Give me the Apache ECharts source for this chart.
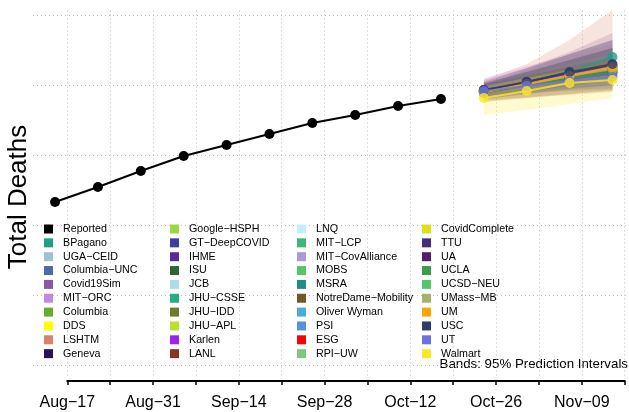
<!DOCTYPE html>
<html><head><meta charset="utf-8">
<script src="https://cdn.jsdelivr.net/npm/echarts@6/dist/echarts.min.js"></script>
<style>html,body{margin:0;padding:0;background:#fff}#c{width:629px;height:412px}</style>
</head><body><div id="c"></div>
<script>
// ---------- DATA ----------
const reportedDates = ['2020-08-15','2020-08-22','2020-08-29','2020-09-05','2020-09-12','2020-09-19','2020-09-26','2020-10-03','2020-10-10','2020-10-17'];
const reportedDeaths = [4329, 4543, 4771, 4986, 5143, 5300, 5457, 5571, 5700, 5800];

const forecastDates = ['2020-10-24','2020-10-31','2020-11-07','2020-11-14'];

const legendCol1 = ['Reported','BPagano','UGA−CEID','Columbia−UNC','Covid19Sim','MIT−ORC','Columbia','DDS','LSHTM','Geneva'];
const legendCol2 = ['Google−HSPH','GT−DeepCOVID','IHME','ISU','JCB','JHU−CSSE','JHU−IDD','JHU−APL','Karlen','LANL'];
const legendCol3 = ['LNQ','MIT−LCP','MIT−CovAlliance','MOBS','MSRA','NotreDame−Mobility','Oliver Wyman','PSI','ESG','RPI−UW'];
const legendCol4 = ['CovidComplete','TTU','UA','UCLA','UCSD−NEU','UMass−MB','UM','USC','UT','Walmart'];

// models with a forecast for this location (point, lower 95%, upper 95%)
const forecastModels = ['BPagano','Columbia−UNC','Covid19Sim','MIT−ORC','LSHTM','GT−DeepCOVID','JHU−IDD','UA','UCLA','UMass−MB','UM','USC','UT','Walmart'];
const forecastPoint = [
  [5914, 6043, 6186, 6400],
  [5929, 6014, 6086, 6157],
  [5900, 6029, 6143, 6257],
  [5914, 6029, 6143, 6243],
  [5886, 6014, 6129, 6243],
  [5929, 6014, 6114, 6186],
  [5886, 6000, 6114, 6214],
  [5914, 6043, 6171, 6286],
  [5900, 6000, 6100, 6186],
  [5900, 6014, 6129, 6229],
  [5900, 6014, 6129, 6257],
  [5929, 6043, 6186, 6300],
  [5914, 5986, 6057, 6114],
  [5814, 5914, 6029, 6071]
];
const forecastLower = [
  [5800, 5900, 6000, 6100],
  [5843, 5886, 5914, 5943],
  [5786, 5829, 5871, 5914],
  [5814, 5871, 5929, 5986],
  [5771, 5814, 5857, 5900],
  [5857, 5900, 5957, 6000],
  [5757, 5814, 5871, 5929],
  [5800, 5871, 5943, 6000],
  [5843, 5914, 5986, 6043],
  [5814, 5886, 5957, 6014],
  [5843, 5929, 6014, 6100],
  [5829, 5900, 5986, 6071],
  [5843, 5886, 5929, 5957],
  [5571, 5643, 5729, 5814]
];
const forecastUpper = [
  [6000, 6214, 6443, 6643],
  [6014, 6143, 6271, 6386],
  [6071, 6243, 6471, 6743],
  [6100, 6271, 6429, 6586],
  [6071, 6300, 6643, 7071],
  [6000, 6129, 6257, 6371],
  [6014, 6186, 6357, 6529],
  [6043, 6243, 6443, 6643],
  [5957, 6086, 6214, 6329],
  [5986, 6143, 6300, 6443],
  [5957, 6100, 6243, 6386],
  [6029, 6186, 6357, 6529],
  [5986, 6086, 6186, 6271],
  [5986, 6100, 6214, 6314]
];

const tickLabels = ['Aug−17','Aug−31','Sep−14','Sep−28','Oct−12','Oct−26','Nov−09'];
const axisStartDate = '2020-08-17';
const gridDeaths = [2000, 3000, 4000, 5000, 6000, 7000];
const gridWeeks = [0,7,14,21,28,35,42,49,56,63,70,77,84,91];

// ---------- STYLE ----------
const modelColors = {
  'Reported':'#000000','BPagano':'#1f9e89','UGA−CEID':'#9cc3cf','Columbia−UNC':'#4f6aa8','Covid19Sim':'#8b56a6',
  'MIT−ORC':'#c08ae3','Columbia':'#6aaa2c','DDS':'#ffff00','LSHTM':'#d9826a','Geneva':'#28115a',
  'Google−HSPH':'#98d840','GT−DeepCOVID':'#3c409a','IHME':'#5a2a9c','ISU':'#2e6536','JCB':'#aadcec',
  'JHU−CSSE':'#27ad81','JHU−IDD':'#6e7a2c','JHU−APL':'#bde02c','Karlen':'#a020f0','LANL':'#8b3222',
  'LNQ':'#c6eefa','MIT−LCP':'#3cb878','MIT−CovAlliance':'#a899d8','MOBS':'#55c667','MSRA':'#1f8f84',
  'NotreDame−Mobility':'#6f5a23','Oliver Wyman':'#4aabd9','PSI':'#5b8fe0','ESG':'#ff0000','RPI−UW':'#7dc87f',
  'CovidComplete':'#dede1c','TTU':'#472c7a','UA':'#541f68','UCLA':'#3f9a4e','UCSD−NEU':'#54c76c',
  'UMass−MB':'#a2b36c','UM':'#ffa500','USC':'#2e3b6e','UT':'#6a72e0','Walmart':'#fde725'
};
const FONT = '"Liberation Sans", Arial, Helvetica, sans-serif';
const DAY = 86400000;
const t0 = Date.parse(axisStartDate);
const plotLeft = 33, plotRight = 629, daysBefore = 5.6, daysAfter = 91.7;
const pxPerDay = (plotRight - plotLeft) / (daysBefore + daysAfter);
const axisLeft = plotLeft + daysBefore * pxPerDay;
const axisRight = 629 - (axisLeft + 91 * pxPerDay);

const series = [];

// bands (drawn first)
forecastModels.forEach((name, k) => {
  const lo = forecastLower[k], hi = forecastUpper[k];
  const color = modelColors[name];
  series.push({
    type: 'custom', name: name + ' band', xAxisIndex: 0, yAxisIndex: 0, z: 1, silent: true,
    data: forecastDates.map((d, i) => [Date.parse(d), lo[i], hi[i]]),
    encode: { x: 0, y: [1, 2] },
    renderItem: function (params, api) {
      if (params.dataIndexInside !== 0) return null;
      const top = [], bot = [];
      for (let i = 0; i < forecastDates.length; i++) {
        const t = Date.parse(forecastDates[i]);
        top.push(api.coord([t, hi[i]]));
        bot.push(api.coord([t, lo[i]]));
      }
      return { type: 'polygon', shape: { points: top.concat(bot.reverse()) }, style: { fill: color, opacity: 0.22 } };
    }
  });
});

// reported
series.push({
  type: 'line', name: 'Reported', xAxisIndex: 0, yAxisIndex: 0, z: 4,
  data: reportedDates.map((d, i) => [Date.parse(d), reportedDeaths[i]]),
  symbol: 'circle', symbolSize: 10, color: '#000',
  lineStyle: { width: 2, color: '#000' }, itemStyle: { color: '#000' },
  emphasis: { disabled: true },
  markLine: {
    silent: true, symbol: 'none', z: 0, animation: false,
    label: { show: false },
    lineStyle: { color: '#bdbdbd', width: 1, type: [1, 3] },
    emphasis: { disabled: true },
    data: gridDeaths.map(v => ({ yAxis: v })).concat(gridWeeks.map(w => ({ xAxis: t0 + w * DAY })))
  }
});

// model lines/points (all legend entries)
[].concat(legendCol1, legendCol2, legendCol3, legendCol4).forEach(name => {
  if (name === 'Reported') return;
  const k = forecastModels.indexOf(name);
  const pts = k >= 0 ? forecastDates.map((d, i) => [Date.parse(d), forecastPoint[k][i]]) : [];
  series.push({
    type: 'line', name: name, xAxisIndex: 0, yAxisIndex: 0, z: 3,
    data: pts, symbol: 'circle', symbolSize: 10, color: modelColors[name],
    lineStyle: { width: 2, color: modelColors[name], opacity: 0.8 },
    itemStyle: { color: modelColors[name], opacity: 0.8 },
    emphasis: { disabled: true }
  });
});

const legendLefts = [44, 170, 297, 422];
const legends = [legendCol1, legendCol2, legendCol3, legendCol4].map((col, i) => ({
  data: col, orient: 'vertical', left: legendLefts[i], top: 223.5, padding: 0,
  icon: 'rect', itemWidth: 9, itemHeight: 9, itemGap: 2.85, selectedMode: false,
  itemStyle: { opacity: 1 },
  textStyle: { fontFamily: FONT, fontSize: 10.7, lineHeight: 10, color: '#000', padding: [0, 0, 0, 5] }
}));

const option = {
  animation: false,
  backgroundColor: '#fff',
  grid: [
    { left: plotLeft, right: 629 - plotRight, top: 8, bottom: 36.5 },
    { left: axisLeft, right: axisRight, top: 380, height: 1 }
  ],
  xAxis: [
    { type: 'time', gridIndex: 0, show: false, min: t0 - daysBefore * DAY, max: t0 + daysAfter * DAY },
    { type: 'value', gridIndex: 1, min: 0, max: 91, interval: 7,
      axisLine: { show: true, lineStyle: { color: '#000', width: 2 } },
      axisTick: { show: true, length: 4, lineStyle: { color: '#000', width: 1.5 } },
      splitLine: { show: false },
      axisLabel: { margin: 14, color: '#000', fontFamily: FONT, fontSize: 16,
        formatter: v => (v % 14 === 0 ? tickLabels[v / 14] : '') } }
  ],
  yAxis: [
    { type: 'value', gridIndex: 0, show: false, min: 1850, max: 7100 },
    { type: 'value', gridIndex: 1, show: false, min: 0, max: 1 }
  ],
  legend: legends,
  graphic: [
    { type: 'text', x: 19, y: 197, rotation: Math.PI / 2, silent: true,
      style: { text: 'Total Deaths', fontFamily: FONT, fontSize: 26, fill: '#000', textAlign: 'center', textVerticalAlign: 'middle' } },
    { type: 'text', x: 628, y: 364, silent: true,
      style: { text: 'Bands: 95% Prediction Intervals', fontFamily: FONT, fontSize: 13.3, fill: '#000', textAlign: 'right', textVerticalAlign: 'middle' } }
  ],
  series: series
};
const chart = echarts.init(document.getElementById('c'), null, { renderer: 'canvas' });
chart.setOption(option);
</script></body></html>
